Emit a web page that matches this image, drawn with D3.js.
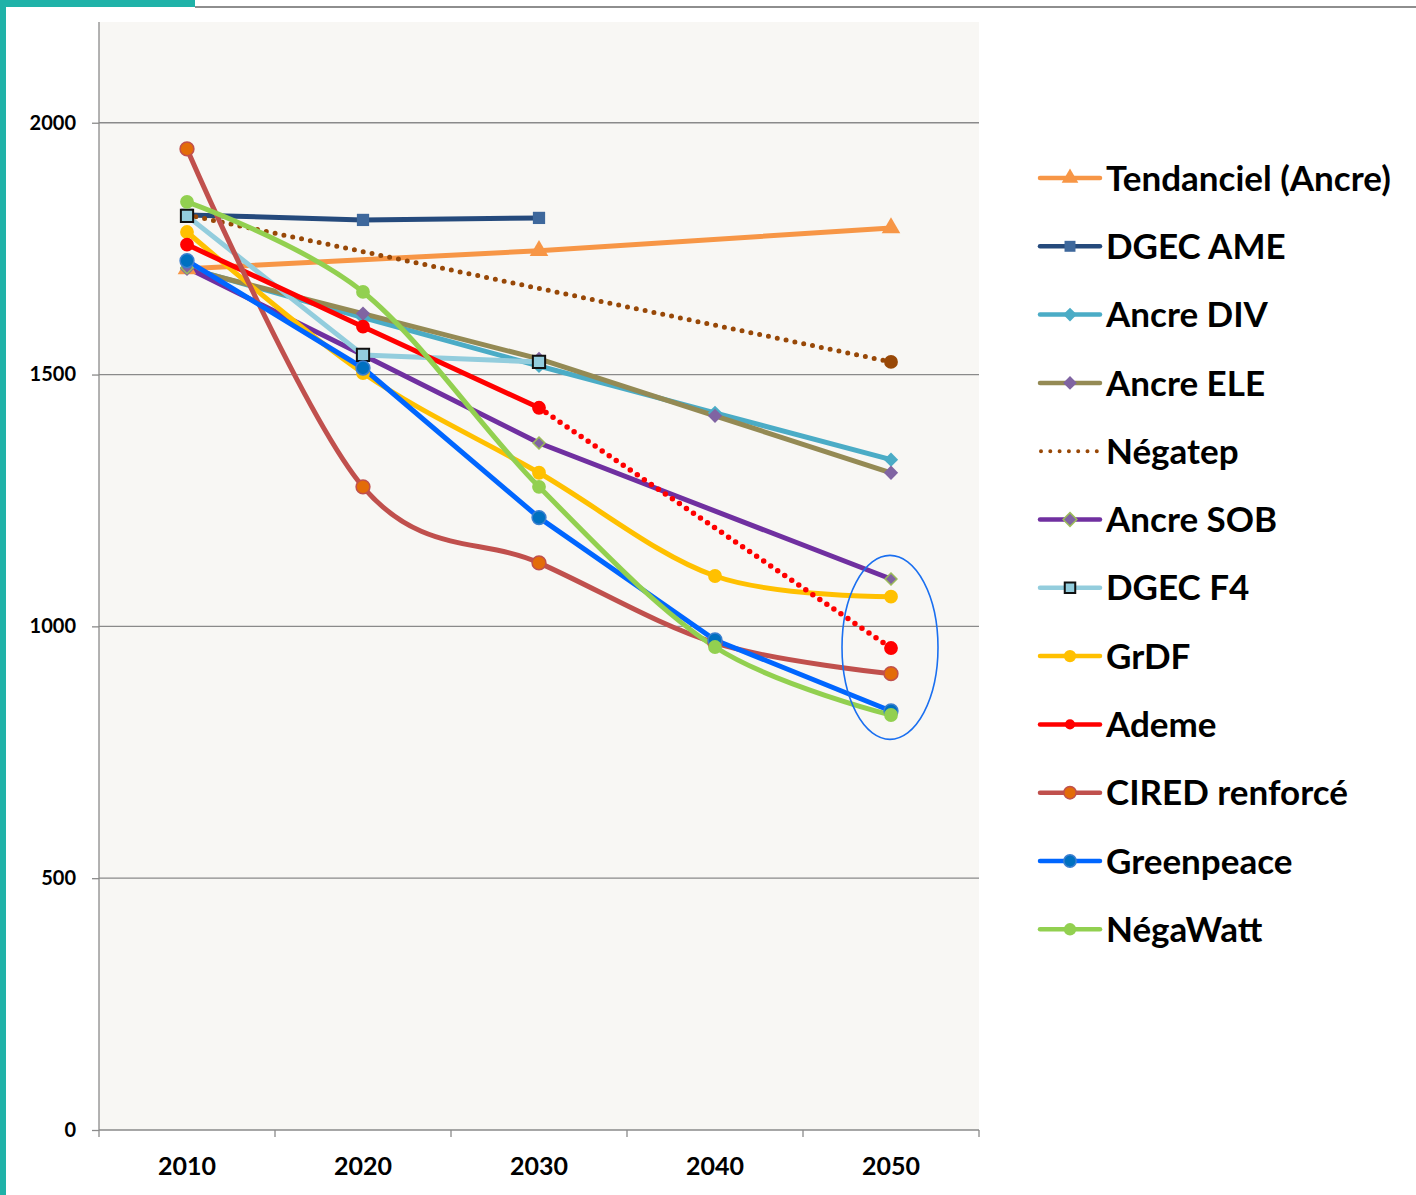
<!DOCTYPE html>
<html>
<head>
<meta charset="utf-8">
<script src="https://cdn.jsdelivr.net/npm/d3@7"></script>
<style>
  body { margin: 0; background: #fff; }
  svg { display: block; font-family: Lato, "Open Sans", sans-serif; }
</style>
</head>
<body>
<svg width="1416" height="1195"></svg>
<script>
// values (null = no point for that year)
const years = ["2010", "2020", "2030", "2040", "2050"];
const yTicks = [0, 500, 1000, 1500, 2000];

const tendanciel = [1710, null, 1746, null, 1791];
const dgecAme    = [1817, 1807, 1811, null, null];
const ancreDiv   = [1712, 1613, 1517, 1424, 1331];
const ancreEle   = [1710, 1621, 1531, 1418, 1305];
const negatep    = [1817, null, null, null, 1525];
const ancreSob   = [1712, 1539, 1364, null, 1094];
const dgecF4     = [1815, 1539, 1525, null, null];
const grdf       = [1783, 1503, 1305, 1100, 1059];
const ademe      = [1758, 1595, 1434, null, 957];
const cired      = [1948, 1277, 1126, 967, 906];
const greenpeace = [1726, 1513, 1216, 973, 832];
const negawatt   = [1843, 1664, 1277, 959, 824];

const series = [
  { name: "Tendanciel (Ancre)", values: tendanciel, line: "#f79646", marker: "triangle", fill: "#f79646", stroke: "none" },
  { name: "DGEC AME", values: dgecAme, line: "#254a7c", marker: "square", fill: "#3e689c", stroke: "none" },
  { name: "Ancre DIV", values: ancreDiv, line: "#4bacc6", marker: "diamond", fill: "#4bacc6", stroke: "none" },
  { name: "Ancre ELE", values: ancreEle, line: "#948a54", marker: "diamond", fill: "#8064a2", stroke: "none" },
  { name: "Négatep", values: negatep, line: "#984807", marker: "circle", fill: "#984807", stroke: "none", dotted: true, hideFirst: true },
  { name: "Ancre SOB", values: ancreSob, line: "#7030a0", marker: "diamond", fill: "#8064a2", stroke: "#9bbb59", small: true },
  { name: "DGEC F4", values: dgecF4, line: "#93cddd", marker: "square", fill: "#93cddd", stroke: "#111" },
  { name: "GrDF", values: grdf, line: "#ffc000", marker: "circle", fill: "#ffc000", stroke: "none", smooth: true },
  { name: "Ademe", values: ademe, line: "#ff0000", marker: "circle", fill: "#ff0000", stroke: "none", dottedFrom: 2 },
  { name: "CIRED renforcé", values: cired, line: "#c0504d", marker: "circle", fill: "#e36c09", stroke: "#c0504d", smooth: true },
  { name: "Greenpeace", values: greenpeace, line: "#0066ff", marker: "circle", fill: "#0070c0", stroke: "#3a7fd0" },
  { name: "NégaWatt", values: negawatt, line: "#92d050", marker: "circle", fill: "#92d050", stroke: "none", smooth: true }
];

const svg = d3.select("svg");
const plot = { left: 99, right: 979, top: 22, bottom: 1130 };

// frame decoration
svg.append("rect").attr("x", 0).attr("y", 0).attr("width", 195).attr("height", 7).attr("fill", "#1fb2a8");
svg.append("rect").attr("x", 0).attr("y", 0).attr("width", 6).attr("height", 1195).attr("fill", "#1fb2a8");
svg.append("rect").attr("x", 195).attr("y", 6).attr("width", 1221).attr("height", 2).attr("fill", "#8e8e8e");

const x = d3.scaleBand().domain(years).range([plot.left, plot.right]).paddingInner(0).paddingOuter(0);
const cx = d => x(d) + x.bandwidth() / 2;
const y = d3.scaleLinear().domain([0, 2200]).range([plot.bottom, plot.top]);

svg.append("rect")
  .attr("x", plot.left).attr("y", plot.top)
  .attr("width", plot.right - plot.left).attr("height", plot.bottom - plot.top)
  .attr("fill", "#f8f7f4");

// grid
svg.append("g").selectAll("line")
  .data(yTicks.filter(t => t > 0)).enter()
  .append("line")
  .attr("x1", plot.left).attr("x2", plot.right)
  .attr("y1", d => y(d)).attr("y2", d => y(d))
  .attr("stroke", "#8a8a8a").attr("stroke-width", 1.3);

// y axis
const yAxis = svg.append("g")
  .attr("transform", `translate(${plot.left},0)`)
  .call(d3.axisLeft(y).tickValues(yTicks).tickSize(7).tickPadding(16).tickFormat(d3.format("d")));
yAxis.select(".domain").attr("stroke", "#8a8a8a").attr("stroke-width", 1.3)
  .attr("d", `M0,${plot.top}V${plot.bottom}`);
yAxis.selectAll(".tick line").attr("stroke", "#8a8a8a").attr("stroke-width", 1.3);
yAxis.selectAll("text").attr("font-size", 20).attr("font-weight", 700).attr("fill", "#000")
  .attr("font-family", "Lato, sans-serif");

// x axis
const xAxis = svg.append("g")
  .attr("transform", `translate(0,${plot.bottom})`)
  .call(d3.axisBottom(x).tickSize(0).tickPadding(27));
xAxis.select(".domain").attr("stroke", "#8a8a8a").attr("stroke-width", 1.3)
  .attr("d", `M${plot.left},0H${plot.right}`);
xAxis.selectAll("text").attr("font-size", 25).attr("font-weight", 700).attr("fill", "#000")
  .attr("font-family", "Lato, sans-serif");
xAxis.selectAll("line.edge")
  .data(years.map(d => x(d)).concat([plot.right])).enter()
  .append("line").attr("class", "edge")
  .attr("x1", d => d).attr("x2", d => d).attr("y1", 0).attr("y2", 7)
  .attr("stroke", "#8a8a8a").attr("stroke-width", 1.3);

function markerPath(type, size) {
  const sym = { triangle: d3.symbolTriangle, square: d3.symbolSquare, diamond: d3.symbolDiamond2, circle: d3.symbolCircle }[type];
  return d3.symbol().type(sym).size(size)();
}
const markerSize = { triangle: 150, square: 150, diamond: 130, circle: 150 };

const lines = svg.append("g");
const marks = svg.append("g");

series.forEach(s => {
  const pts = s.values.map((v, i) => ({ year: years[i], v: v, i: i })).filter(p => p.v != null);
  const gen = d3.line().x(p => cx(p.year)).y(p => y(p.v))
    .curve(s.smooth ? d3.curveCardinal.tension(0) : d3.curveLinear);
  if (s.dottedFrom != null) {
    const solid = pts.filter(p => p.i <= s.dottedFrom);
    const dots = pts.filter(p => p.i >= s.dottedFrom);
    lines.append("path").attr("d", gen(solid)).attr("fill", "none")
      .attr("stroke", s.line).attr("stroke-width", 5).attr("stroke-linejoin", "round");
    lines.append("path").attr("d", gen(dots)).attr("fill", "none")
      .attr("stroke", s.line).attr("stroke-width", 5.5).attr("stroke-linecap", "round")
      .attr("stroke-dasharray", "0 8.5");
  } else {
    const path = lines.append("path").attr("d", gen(pts)).attr("fill", "none")
      .attr("stroke", s.line).attr("stroke-width", s.dotted ? 5 : 5).attr("stroke-linejoin", "round");
    if (s.dotted) path.attr("stroke-linecap", "round").attr("stroke-dasharray", "0 9");
  }
  marks.selectAll(null)
    .data(s.hideFirst ? pts.slice(1) : pts).enter()
    .append("path")
    .attr("transform", p => `translate(${cx(p.year)},${y(p.v)})`)
    .attr("d", markerPath(s.marker, s.small ? 90 : markerSize[s.marker]))
    .attr("fill", s.fill)
    .attr("stroke", s.stroke)
    .attr("stroke-width", s.stroke === "#111" ? 2 : 1.5);
});

// highlight ellipse around 2050
svg.append("ellipse")
  .attr("cx", cx("2050") - 1).attr("cy", y(1000) + 21)
  .attr("rx", 48).attr("ry", 92)
  .attr("fill", "none").attr("stroke", "#1a6ff0").attr("stroke-width", 1.6);

// legend
const legend = svg.append("g").attr("transform", "translate(1040,178)");
const item = legend.selectAll("g").data(series).enter()
  .append("g").attr("transform", (d, i) => `translate(0,${i * 68.3})`);
item.append("line")
  .attr("x1", d => d.dotted ? 1 : 0).attr("x2", 60).attr("y1", 0).attr("y2", 0)
  .attr("stroke", d => d.line)
  .attr("stroke-width", d => d.dotted ? 4 : 4.5)
  .attr("stroke-linecap", "round")
  .attr("stroke-dasharray", d => d.dotted ? "0 9.3" : null);
item.filter(d => !d.dotted).append("path")
  .attr("transform", "translate(30,0)")
  .attr("d", d => d.marker === "square" && d.stroke !== "none" ? markerPath("square", 110) : markerPath(d.marker, d.name === "Ademe" ? 80 : 120))
  .attr("fill", d => d.fill)
  .attr("stroke", d => d.stroke)
  .attr("stroke-width", d => d.stroke === "#111" ? 2 : 1.5);
item.append("text")
  .attr("x", 66).attr("dy", "0.36em")
  .attr("font-size", 35).attr("font-weight", 700).attr("fill", "#000")
  .text(d => d.name);
</script>
</body>
</html>
